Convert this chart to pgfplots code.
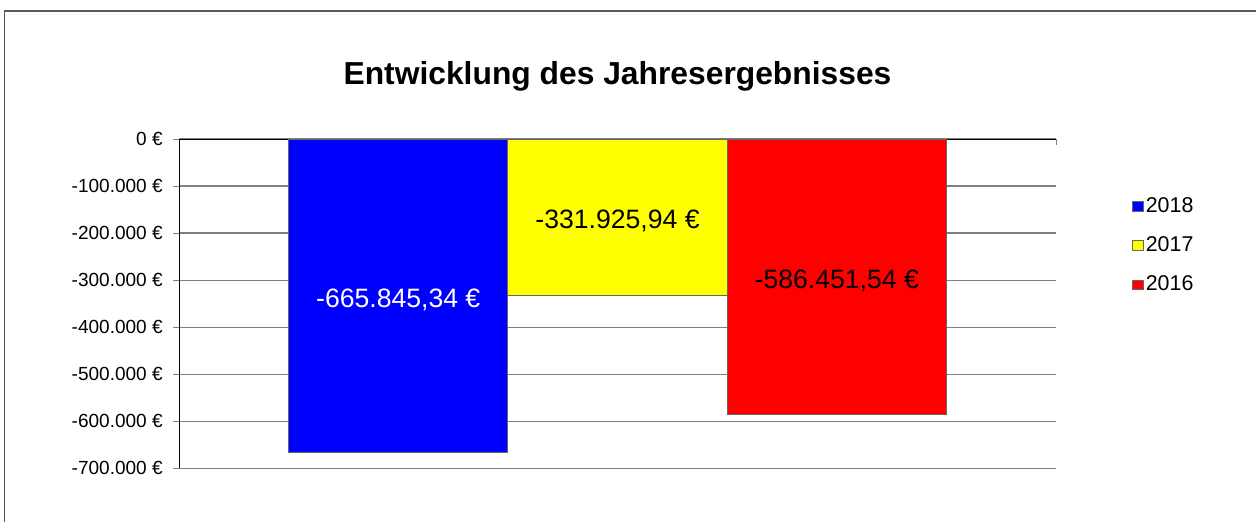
\documentclass[border=0pt]{standalone}
\usepackage{pgfplots}
\pgfplotsset{compat=1.18}
\usepackage{fontspec}
\setmainfont{Liberation Sans}
\definecolor{xlblue}{RGB}{0,0,255}
\definecolor{xlyellow}{RGB}{255,255,0}
\definecolor{xlred}{RGB}{255,0,0}
\definecolor{gridgray}{RGB}{128,128,128}
\definecolor{framegray}{RGB}{90,90,90}
\pgfplotsset{
  sq/.style={legend image code/.code={\draw[##1, line width=0.3pt] (0pt,-2.4pt) rectangle (5.5pt,2.4pt);}}
}
\begin{document}
\begin{tikzpicture}
\useasboundingbox (0pt,0pt) rectangle (628pt,260.5pt);
\fill[white] (0pt,0pt) rectangle (628pt,260.5pt);
\draw[framegray, line width=0.75pt] (2.15pt,-5pt) -- (2.15pt,255pt) -- (640pt,255pt);
\begin{axis}[
  at={(89.5pt,26.35pt)}, anchor=south west,
  scale only axis, width=438.5pt, height=164.65pt,
  xmin=-1, xmax=3, ymin=-700000, ymax=0,
  axis x line*=top, axis y line*=left,
  axis line style={black, line width=0.5pt},
  xtick={-1,3}, xticklabels={,},
  ytick={-700000,-600000,-500000,-400000,-300000,-200000,-100000,0},
  yticklabels={-700.000 €,-600.000 €,-500.000 €,-400.000 €,-300.000 €,-200.000 €,-100.000 €,0 €},
  scaled y ticks=false,
  tick align=inside, major tick length=3pt,
  tick style={gridgray, line width=0.5pt},
  y tick style={xshift=-3pt},
  yticklabel style={inner sep=0pt, xshift=-8pt, font=\fontsize{9.5}{11}\selectfont},
  ymajorgrids, grid style={gridgray, line width=0.6pt},
  title={Entwicklung des Jahresergebnisses},
  title style={font=\fontsize{15.9}{18}\selectfont\bfseries, at={(0.5,1)}, anchor=base, yshift=21.5pt},
  legend style={at={(1.086,0.832)}, anchor=north west, draw=none, fill=none,
    font=\fontsize{10.7}{12.5}\selectfont, row sep=8.3pt, inner sep=0pt,
    nodes={inner sep=1.2pt}},
  legend cell align=left,
  every legend image post/.style={},
  legend image post style={xshift=-1.2pt},
  clip=false,
]
\addplot[ybar, bar width=1, bar shift=0pt, fill=xlblue, draw=black!60, line width=0.4pt, sq] coordinates {(0,-665845.34)};
\addplot[ybar, bar width=1, bar shift=0pt, fill=xlyellow, draw=black!60, line width=0.4pt, sq] coordinates {(1,-331925.94)};
\addplot[ybar, bar width=1, bar shift=0pt, fill=xlred, draw=black!60, line width=0.4pt, sq] coordinates {(2,-586451.54)};
\legend{2018,2017,2016}
\addplot[draw=none, forget plot] coordinates {(0,0) (0,-665845.34)} node[pos=0.5, yshift=-2pt, text=white, font=\fontsize{13.3}{15}\selectfont] {-665.845,34 €};
\addplot[draw=none, forget plot] coordinates {(1,0) (1,-331925.94)} node[pos=0.5, yshift=-2pt, text=black, font=\fontsize{13.3}{15}\selectfont] {-331.925,94 €};
\addplot[draw=none, forget plot] coordinates {(2,0) (2,-586451.54)} node[pos=0.5, yshift=-2pt, text=black, font=\fontsize{13.3}{15}\selectfont] {-586.451,54 €};
\end{axis}
\end{tikzpicture}
\end{document}
